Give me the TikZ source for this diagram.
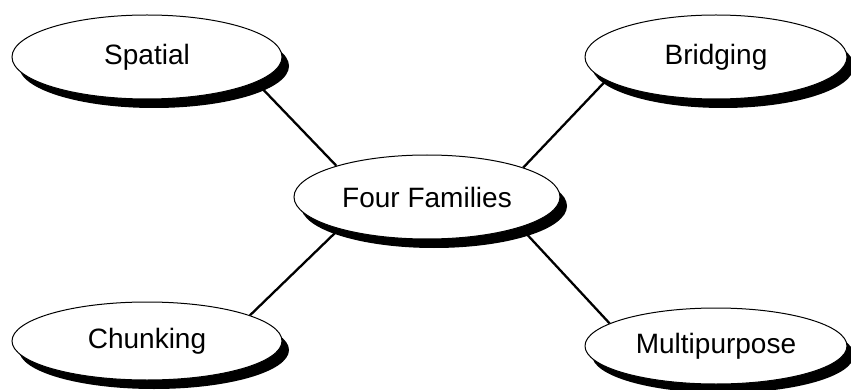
\documentclass[tikz,border=0pt]{standalone}
\usepackage{fontspec}
\setmainfont{Liberation Sans}
\usetikzlibrary{shapes.geometric,shadows,backgrounds}

\tikzset{
  family/.style={ellipse, draw=black, line width=1pt, fill=white, inner sep=0pt,
    font=\fontsize{28}{34}\selectfont,
    drop shadow={shadow xshift=7pt, shadow yshift=-9pt, fill=black, opacity=1}},
  link/.style={line width=2.3pt, black}
}

\begin{document}
\begin{tikzpicture}[x=1pt, y=-1pt]
  \useasboundingbox (0,0) rectangle (851,390);

  % the five ellipses
  \node[family, minimum width=270pt, minimum height=84pt] (spatial)  at (147,57)  {Spatial};
  \node[family, minimum width=262pt, minimum height=84pt] (bridging) at (716,57)  {Bridging};
  \node[family, minimum width=266pt, minimum height=84pt] (four)     at (427,197) {Four Families};
  \node[family, minimum width=270pt, minimum height=78pt] (chunking) at (147,341) {Chunking};
  \node[family, minimum width=262pt, minimum height=76pt] (multi)    at (716,346) {Multipurpose};

  % spokes, kept behind the ellipses and their shadows
  \begin{scope}[on background layer]
    \draw[link] (spatial.-13.8)  -- (four.161.6);
    \draw[link] (bridging.192.2) -- (four.17.3);
    \draw[link] (four.200.3)     -- (chunking.14.7);
    \draw[link] (four.-18.5)     -- (multi.168.5);
  \end{scope}
\end{tikzpicture}
\end{document}
